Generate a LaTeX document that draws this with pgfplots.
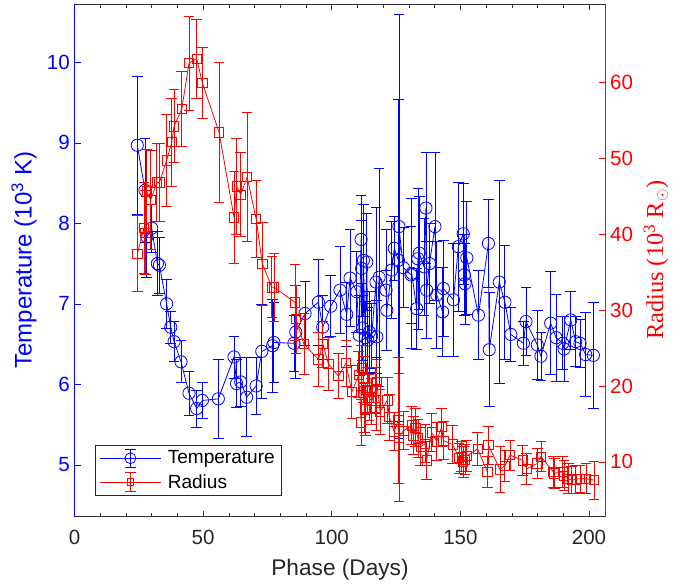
\documentclass[border=0pt]{standalone}
\usepackage{pgfplots}
\pgfplotsset{compat=1.18}
\usepackage{pgfplotstable}
\usepackage{fontspec}
\setmainfont{Liberation Sans}
\newfontfamily\seriffont{Liberation Serif}
\newcommand\ticksize{\fontsize{15.4pt}{18pt}\selectfont}
\newcommand\labsize{\fontsize{17pt}{20pt}\selectfont}
\newcommand\ylabsize{\fontsize{18pt}{21pt}\selectfont}
\newcommand\rlabsize{\fontsize{18.3pt}{22pt}\selectfont}
\newcommand\legsize{\fontsize{14.3pt}{16pt}\selectfont}
\definecolor{mblue}{RGB}{0,0,255}
\definecolor{mred}{RGB}{255,0,0}

\pgfplotstableread{
x y e
24.4 8.97 0.86
27.4 8.41 0.65
28.1 7.83 0.50
30.0 7.94 0.30
32.2 7.50 0.40
33.0 7.48 0.35
35.8 7.00 0.30
37.4 6.71 0.20
38.7 6.53 0.25
41.4 6.28 0.26
44.5 5.89 0.27
47.5 5.70 0.23
49.7 5.80 0.22
55.9 5.82 0.49
62.0 6.34 0.26
63.0 6.01 0.30
64.6 6.03 0.30
66.9 5.84 0.49
70.6 5.98 0.35
72.8 6.41 0.58
77.0 6.48 0.58
77.5 6.52 0.50
85.3 6.51 0.35
86.0 6.65 0.58
89.6 6.88 0.40
94.8 7.02 0.53
96.5 6.71 0.40
99.6 6.97 0.38
103.2 7.17 0.54
105.8 6.87 0.40
107.1 7.32 0.60
109.7 7.15 0.50
110.7 6.61 0.50
111.4 7.80 0.55
111.6 7.44 0.60
112.0 6.70 0.40
112.3 7.54 0.70
113.0 6.58 0.45
113.6 7.52 0.60
114.0 6.55 0.40
114.6 6.65 0.50
115.5 6.60 0.40
117.2 7.27 0.93
117.5 6.59 0.45
118.4 7.33 1.35
121.1 7.17 0.75
121.4 6.92 0.50
123.3 7.42 0.60
124.3 7.69 0.40
125.9 7.54 2.00
126.1 7.96 2.63
127.8 7.45 0.50
130.8 7.36 0.60
131.1 7.38 0.93
133.0 6.94 0.50
133.5 7.56 0.88
134.0 7.63 0.70
135.9 7.46 0.60
136.6 8.19 0.69
136.9 7.17 0.60
138.0 7.50 0.50
140.1 7.96 0.92
140.8 7.11 0.66
143.1 6.90 0.55
143.4 7.19 0.60
147.3 7.05 0.70
149.2 7.71 0.80
151.1 7.87 0.63
151.5 7.36 0.50
151.8 7.25 0.50
152.5 7.57 0.70
157.0 6.86 0.55
160.9 7.75 0.55
161.2 6.43 0.71
165.1 7.27 1.26
167.3 7.02 0.71
169.6 6.62 0.33
174.5 6.51 0.27
175.5 6.78 0.42
179.9 6.49 0.43
181.3 6.35 0.30
185.1 6.76 0.64
187.2 6.58 0.54
189.8 6.51 0.33
190.3 6.44 0.40
192.9 6.80 0.36
194.8 6.53 0.31
196.5 6.51 0.30
198.7 6.37 0.52
201.7 6.36 0.66
}\tempdata

\pgfplotstableread{
x y e
24.4 37.4 5.0
27.0 40.8 6.0
27.6 40.2 5.5
28.1 45.6 5.5
29.6 44.5 6.5
32.0 46.8 5.1
33.0 46.8 5.1
35.8 49.7 6.1
37.8 52.1 5.8
38.7 54.2 4.8
41.7 56.5 4.9
44.5 62.5 6.2
47.5 63.1 5.2
49.7 59.9 4.7
56.2 53.4 9.2
62.0 42.2 6.0
63.0 46.3 6.3
64.6 45.2 5.5
67.1 47.5 8.5
70.6 42.0 5.1
73.0 36.1 5.5
76.7 33.0 4.0
77.6 33.0 4.5
85.7 31.0 5.0
86.1 28.8 4.5
89.2 25.5 4.0
94.8 23.5 3.6
96.5 25.5 3.0
98.7 22.9 3.5
102.6 21.3 3.0
105.5 23.0 3.0
107.8 19.2 3.5
110.5 21.5 3.0
111.4 15.2 3.0
111.6 22.4 3.0
112.3 20.9 3.0
112.8 16.9 3.0
113.2 17.0 3.5
113.8 19.5 3.0
114.5 18.5 3.0
115.5 18.0 3.0
116.9 19.4 3.0
117.2 17.2 3.0
117.5 20.5 3.0
118.8 16.6 3.0
121.6 18.1 3.0
122.4 15.9 3.0
124.2 14.0 2.5
125.9 15.5 8.3
126.1 13.2 8.4
127.8 14.1 2.5
131.1 14.8 2.5
131.7 13.5 2.5
132.5 14.5 2.5
133.5 13.1 2.5
134.6 12.0 2.5
136.3 12.4 2.5
136.9 10.2 2.5
138.8 13.9 2.5
140.8 12.7 2.5
142.7 14.6 2.5
143.4 12.8 2.5
147.0 12.3 2.5
149.5 10.5 2.0
150.5 10.7 2.0
151.1 10.0 2.0
151.8 10.3 2.0
152.5 10.8 2.0
156.7 11.7 2.2
160.5 8.7 2.0
160.9 12.2 2.5
165.4 9.0 3.0
167.3 9.5 2.0
169.3 10.9 2.0
174.2 10.2 2.0
175.8 9.1 2.0
179.9 9.8 2.0
181.3 10.7 2.0
186.1 8.7 2.0
186.5 8.5 2.0
189.8 8.7 2.0
190.3 8.2 2.0
191.9 7.8 2.0
193.3 7.6 1.8
194.8 7.7 1.8
196.5 7.8 1.8
198.8 7.8 2.0
202.0 7.6 2.5
}\raddata

\begin{document}
\begin{tikzpicture}
% frame, x axis and left axis
\begin{axis}[
  scale only axis, width=398.25pt, height=384.5pt,
  xmin=0, xmax=206.4, ymin=4.357, ymax=10.725,
  separate axis lines,
  x axis line style={black!80, line width=0.6pt},
  y axis line style={mblue, line width=0.6pt},
  xtick={0,50,...,200}, minor x tick num=4,
  ytick={5,6,...,10}, ytick pos=left,
  tick align=inside,
  major tick length=4.5pt, minor tick length=2.8pt,
  x tick style={black!80, line width=0.5pt},
  y tick style={mblue, line width=0.5pt},
  tick label style={font=\ticksize},
  xticklabel style={black!85, anchor=base, yshift=-21pt},
  yticklabel style={mblue},
  /pgf/number format/assume math mode=true,
  xlabel={Phase (Days)},
  xlabel style={font=\labsize, black!85, at={(axis description cs:0.5,0)}, anchor=base, yshift=-44.5pt},
  ylabel={Temperature (10\textsuperscript{3} K)},
  ylabel style={font=\ylabsize, mblue, at={(axis description cs:-0.0951,0.5)}, anchor=center},
]
\end{axis}
% temperature data
\begin{axis}[
  scale only axis, width=398.25pt, height=384.5pt,
  xmin=0, xmax=206.4, ymin=4.357, ymax=10.725,
  hide axis,
]
\addplot[mblue, line width=0.6pt, mark=none, quiver={u=0, v=2*\thisrow{e}}]
  table[x=x, y expr=\thisrow{y}-\thisrow{e}] {\tempdata};
\addplot[mblue, only marks, mark=-, mark size=4pt, mark options={line width=0.6pt}]
  table[x=x, y expr=\thisrow{y}+\thisrow{e}] {\tempdata};
\addplot[mblue, only marks, mark=-, mark size=4pt, mark options={line width=0.6pt}]
  table[x=x, y expr=\thisrow{y}-\thisrow{e}] {\tempdata};
\addplot[mblue, line width=0.6pt, mark=o, mark size=4.6pt, mark options={line width=0.6pt}]
  table[x=x, y=y] {\tempdata};
\end{axis}
% radius data and right axis
\begin{axis}[
  scale only axis, width=398.25pt, height=384.5pt,
  xmin=0, xmax=206.4, ymin=2.8, ymax=70.3,
  axis x line=none, axis y line=right,
  axis line style={-, mred, line width=0.6pt},
  ytick={10,20,...,60},
  tick align=inside, major tick length=4.5pt,
  y tick style={mred, line width=0.5pt},
  yticklabel style={mred, font=\ticksize},
  /pgf/number format/assume math mode=true,
  ylabel={\seriffont Radius (10\textsuperscript{3} R$_\odot$)},
  ylabel style={font=\rlabsize, mred, at={(axis description cs:1.095,0.5)}, anchor=center},
  legend style={at={(0.0386,0.0404)}, anchor=south west, draw=black!85, line width=0.5pt,
    font=\legsize, inner xsep=3pt, inner ysep=1pt, row sep=0pt},
  legend cell align=left,
]
\addlegendimage{legend image code/.code={
  \path[draw=none, fill=none] (0pt,-9pt) rectangle (49pt,9pt);
  \draw[mblue, line width=0.6pt] (0pt,0pt) -- (46pt,0pt);
  \draw[mblue, line width=0.6pt] (23pt,-7pt) -- (23pt,7pt) (19pt,7pt) -- (27pt,7pt) (19pt,-7pt) -- (27pt,-7pt);
  \draw[mblue, line width=0.6pt] (23pt,0pt) circle (4.1pt);
}}
\addlegendentry{Temperature}
\addplot[mred, line width=0.6pt, mark=none, quiver={u=0, v=2*\thisrow{e}}, forget plot]
  table[x=x, y expr=\thisrow{y}-\thisrow{e}] {\raddata};
\addplot[mred, only marks, mark=-, mark size=4pt, mark options={line width=0.6pt}, forget plot]
  table[x=x, y expr=\thisrow{y}+\thisrow{e}] {\raddata};
\addplot[mred, only marks, mark=-, mark size=4pt, mark options={line width=0.6pt}, forget plot]
  table[x=x, y expr=\thisrow{y}-\thisrow{e}] {\raddata};
\addplot[mred, line width=0.6pt, mark=square, mark size=3.5pt, mark options={line width=0.6pt}, forget plot]
  table[x=x, y=y] {\raddata};
\addlegendimage{legend image code/.code={
  \path[draw=none, fill=none] (0pt,-9pt) rectangle (49pt,9pt);
  \draw[mred, line width=0.6pt] (0pt,0pt) -- (46pt,0pt);
  \draw[mred, line width=0.6pt] (23pt,-7pt) -- (23pt,7pt) (19pt,7pt) -- (27pt,7pt) (19pt,-7pt) -- (27pt,-7pt);
  \draw[mred, line width=0.6pt] (20.5pt,-2.5pt) rectangle (25.5pt,2.5pt);
}}
\addlegendentry{Radius}
\end{axis}
\pgfresetboundingbox
\path[use as bounding box] (-55.9pt,-50.5pt) rectangle (460.9pt,387.5pt);
\end{tikzpicture}
\end{document}
